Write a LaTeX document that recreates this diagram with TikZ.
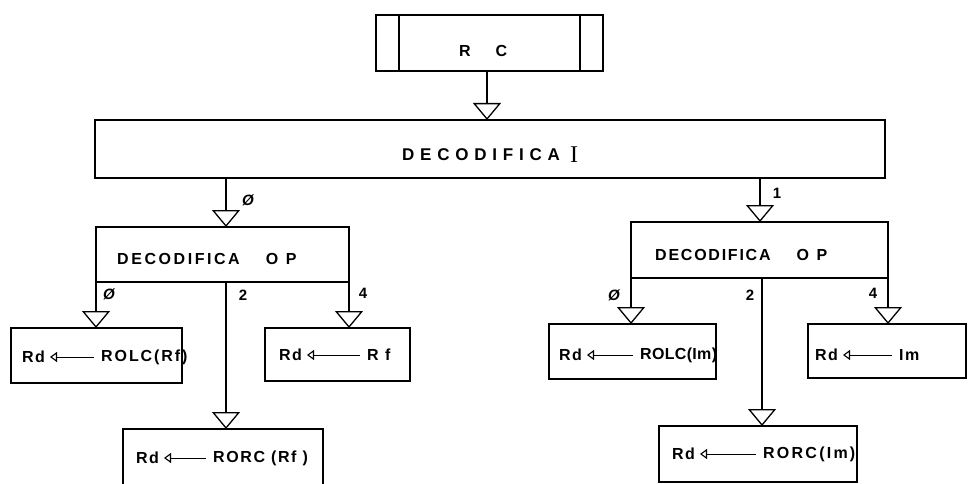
\documentclass[tikz,border=0pt]{standalone}
\usepackage{fontspec}
\setmainfont{Liberation Sans}
\newfontfamily\serI{Liberation Serif}
\usetikzlibrary{arrows.meta}
\newcommand{\spc}[2]{{\addfontfeature{LetterSpace=#1}#2}}
\tikzset{
  box/.style={draw, line width=1.5pt, inner sep=0pt, outer sep=0pt, fill=none},
  flow/.style={line width=1.5pt, -{Triangle[open, width=28pt, length=17pt, line width=1.3pt]}},
  txt/.style={inner sep=0pt, anchor=west, font=\fontsize{16}{18}\selectfont\bfseries},
  lbl/.style={inner sep=0pt, font=\fontsize{15}{17}\selectfont\bfseries\itshape},
  num/.style={inner sep=0pt, font=\fontsize{15}{17}\selectfont\bfseries},
  rtip/.style={line width=0.8pt, -{Triangle[open, width=10pt, length=7pt, line width=1.1pt]}}
}
\begin{document}
\begin{tikzpicture}[x=1pt, y=-1pt]
\useasboundingbox (0,0) rectangle (969,484);
% RC box (predefined process)
\node[box, minimum width=227pt, minimum height=56pt] (rc) at (489.5,43) {};
\draw[line width=1.5pt] (399,15) -- (399,71) (580,15) -- (580,71);
\node[txt] (rct) at (459,51) {R\hspace{25pt}C};
% DECODIFICA I
\node[box, minimum width=790pt, minimum height=58pt] (di) at (490,149) {};
\node[txt, font=\fontsize{17}{19}\selectfont\bfseries] (dit) at (402,155) {\spc{34}{DECODIFICA}};
\node[inner sep=0pt, anchor=west, font=\fontsize{24}{26}\selectfont\serI] (diI) at (570,155) {I};
\draw[flow] (rc.south -| 487,0) -- (di.north -| 487,0);
% left OP box
\node[box, minimum width=253pt, minimum height=55pt] (opl) at (222.5,254.5) {};
\node[txt] (oplt) at (117,259) {\spc{16}{DECODIFICA}\hspace{26pt}\spc{20}{O P}};
\draw[flow] (di.south -| 226,0) -- (opl.north -| 226,0);
\node[lbl] (l0) at (248,200) {Ø};
% right OP box
\node[box, minimum width=257pt, minimum height=56pt] (opr) at (759.5,250) {};
\node[txt] (oprt) at (655,255) {\spc{11}{DECODIFICA}\hspace{26pt}\spc{20}{O P}};
\draw[flow] (di.south -| 760,0) -- (opr.north -| 760,0);
\node[num] (l1) at (777,193) {1};
% left bottom boxes
\node[box, minimum width=171pt, minimum height=55pt] (b1) at (96.5,355.5) {};
\node[box, minimum width=145pt, minimum height=53pt] (b2) at (337.5,354.5) {};
\draw[line width=1.5pt] (123,486) -- (123,429) -- (323,429) -- (323,486);
\coordinate (b3) at (226,429);
% right bottom boxes
\node[box, minimum width=167pt, minimum height=55pt] (b4) at (632.5,351.5) {};
\node[box, minimum width=158pt, minimum height=54pt] (b5) at (887,351) {};
\node[box, minimum width=198pt, minimum height=56pt] (b6) at (758,454) {};
% branches left
\draw[flow] (opl.south west) -- (b1.north -| 96,0);
\draw[flow] (opl.south -| 226,0) -- (b3);
\draw[flow] (opl.south east) -- (b2.north -| 349,0);
\node[lbl] (la0) at (109,294) {Ø};
\node[num] (la2) at (243,295) {2};
\node[num] (la4) at (363,293) {4};
% branches right
\draw[flow] (opr.south west) -- (b4.north -| 631,0);
\draw[flow] (opr.south -| 762,0) -- (b6.north -| 762,0);
\draw[flow] (opr.south east) -- (b5.north -| 888,0);
\node[lbl] (ra0) at (614,295) {Ø};
\node[num] (ra2) at (750,295) {2};
\node[num] (ra4) at (873,293) {4};
% texts in boxes
\node[txt] (t1a) at (22,357) {\spc{8}{Rd}};
\node[txt] (t1b) at (101,357) {\spc{12}{ROLC(Rf)}};
\node[txt] (t2a) at (279,355) {\spc{8}{Rd}};
\node[txt] (t2b) at (367,355) {\spc{40}{Rf}};
\node[txt] (t3a) at (136,458) {\spc{8}{Rd}};
\node[txt] (t3b) at (213,458) {\spc{10}{RORC (Rf )}};
\node[txt] (t4a) at (559,355) {\spc{8}{Rd}};
\node[txt] (t4b) at (640,355) {\spc{2}{ROLC(Im)}};
\node[txt] (t5a) at (815,355) {\spc{8}{Rd}};
\node[txt] (t5b) at (899,355) {\spc{10}{Im}};
\node[txt] (t6a) at (672,454) {\spc{8}{Rd}};
\node[txt] (t6b) at (763,454) {\spc{14}{RORC(Im)}};
\foreach \a/\b in {t1a/t1b,t2a/t2b,t3a/t3b,t4a/t4b,t5a/t5b,t6a/t6b}{
  \draw[rtip] ([xshift=-7pt]\b.west) -- ([xshift=5pt]\a.east);
}
\end{tikzpicture}
\end{document}
